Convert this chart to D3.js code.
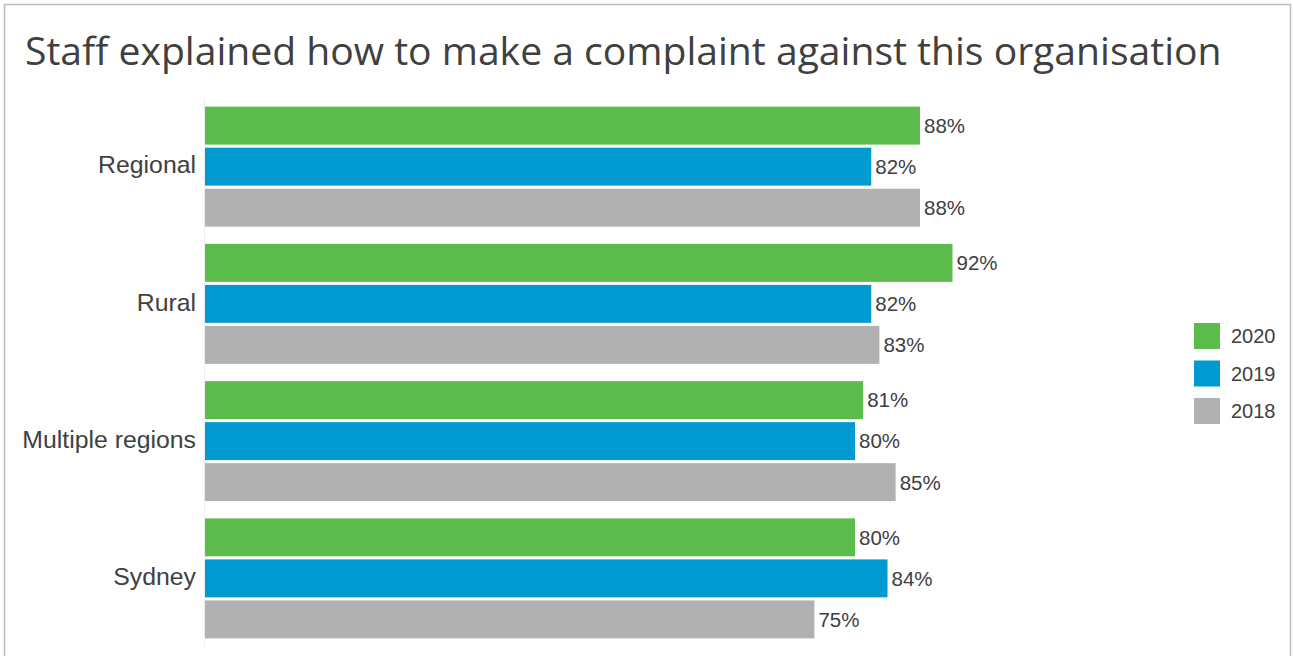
<!DOCTYPE html>
<html>
<head>
<meta charset="utf-8">
<script src="https://cdn.jsdelivr.net/npm/d3@7"></script>
<style>
  html, body { margin: 0; padding: 0; background: #fff; }
  svg { display: block; }
</style>
</head>
<body>
<svg id="chart" width="1293" height="656"></svg>
<script>
const title = "Staff explained how to make a complaint against this organisation";
const categories = ["Regional", "Rural", "Multiple regions", "Sydney"];
const seriesNames = ["2020", "2019", "2018"];
const values2020 = [88, 92, 81, 80];
const values2019 = [82, 82, 80, 84];
const values2018 = [88, 83, 85, 75];
const colors = ["#5bbb4b", "#0099d0", "#b1b1b1"];

const seriesValues = [values2020, values2019, values2018];
const data = categories.map((c, i) => ({
  category: c,
  values: seriesNames.map((s, j) => ({ series: s, value: seriesValues[j][i] }))
}));

const svg = d3.select("#chart");
const textColor = "#404040";

// border
svg.append("rect")
  .attr("x", 4.5).attr("y", 4.5)
  .attr("width", 1286).attr("height", 670)
  .attr("fill", "none").attr("stroke", "#bcbcbc").attr("stroke-width", 1.5);

// title
const t = svg.append("text")
  .attr("x", 25).attr("y", 65)
  .attr("fill", textColor)
  .style("font-family", "'Open Sans', 'Noto Sans', sans-serif")
  .style("font-size", "40px")
  .text(title);
const tw = t.node().getComputedTextLength();
t.style("font-size", (40 * 1197 / tw) + "px");

const x = d3.scaleLinear().domain([0, 100]).range([205, 1017.5]);
const y0 = d3.scaleBand().domain(categories).range([98, 647]).paddingInner(0.126).paddingOuter(0.063);
const y1 = d3.scaleBand().domain(seriesNames).range([0, y0.bandwidth()]).paddingInner(0.075).paddingOuter(0);
const color = d3.scaleOrdinal().domain(seriesNames).range(colors);

// axis line
svg.append("line")
  .attr("x1", 204.5).attr("x2", 204.5)
  .attr("y1", 98).attr("y2", 647)
  .attr("stroke", "#eeeeee").attr("stroke-width", 1);

const groups = svg.append("g").selectAll("g")
  .data(data).join("g")
  .attr("transform", d => `translate(0,${y0(d.category)})`);

groups.selectAll("rect")
  .data(d => d.values).join("rect")
  .attr("x", x(0))
  .attr("y", d => y1(d.series))
  .attr("width", d => x(d.value) - x(0))
  .attr("height", y1.bandwidth())
  .attr("fill", d => color(d.series));

groups.selectAll("text.val")
  .data(d => d.values).join("text")
  .attr("class", "val")
  .attr("x", d => x(d.value) + 4)
  .attr("y", d => y1(d.series) + y1.bandwidth() / 2)
  .attr("dy", "0.36em")
  .attr("fill", textColor)
  .style("font-family", "'Liberation Sans', Arial, sans-serif")
  .style("font-size", "20.5px")
  .text(d => d.value + "%");

// category axis labels
const yAxis = d3.axisLeft(y0).tickSize(0).tickPadding(0);
const ax = svg.append("g").attr("transform", "translate(196,0)").call(yAxis);
ax.select(".domain").remove();
ax.selectAll("text")
  .attr("fill", textColor)
  .attr("dy", "0.27em")
  .style("font-family", "'Liberation Sans', Arial, sans-serif")
  .style("font-size", "24.8px");

// legend
const legend = svg.append("g").selectAll("g")
  .data(seriesNames).join("g")
  .attr("transform", (d, i) => `translate(1194,${323 + i * 37.5})`);
legend.append("rect")
  .attr("width", 26).attr("height", 26)
  .attr("fill", d => color(d));
legend.append("text")
  .attr("x", 37).attr("y", 13).attr("dy", "0.36em")
  .attr("fill", textColor)
  .style("font-family", "'Liberation Sans', Arial, sans-serif")
  .style("font-size", "20px")
  .text(d => d);
</script>
</body>
</html>
